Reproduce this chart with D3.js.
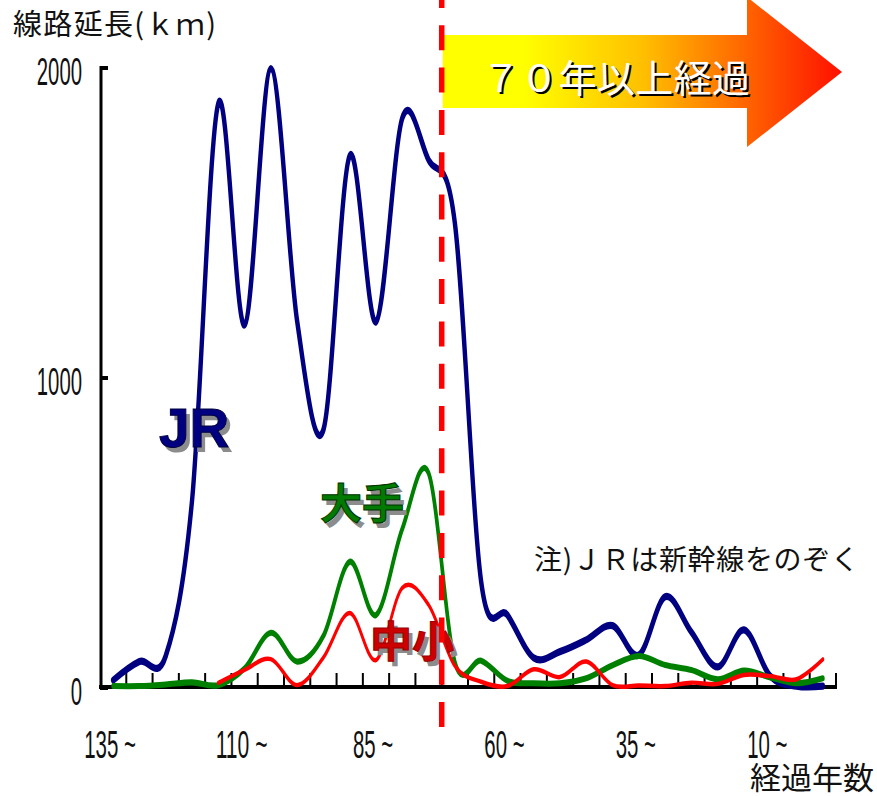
<!DOCTYPE html>
<html>
<head>
<meta charset="utf-8">
<script src="https://cdn.jsdelivr.net/npm/d3@7"></script>
<style>
body { margin: 0; background: #fff; }
svg { display: block; }
</style>
</head>
<body>
<svg id="chart" width="877" height="796"></svg>
<script>
// age classes (years since opening), one band per 5 years
const ages = ["135","130","125","120","115","110","105","100","95","90","85","80","75","70",
              "65","60","55","50","45","40","35","30","25","20","15","10","5","0"];
// line length (km) per age class
const jrValues     = [22, 82, 100, 600, 1882, 1168, 1995, 1180, 830, 1714, 1178, 1835, 1700, 1497,
                      340, 232, 94, 114, 152, 198, 103, 291, 177, 65, 184, 35, 3, 3];
const ooteValues   = [3, 3, 8, 15, 6, 60, 175, 82, 165, 404, 232, 510, 690, 80,
                      85, 20, 12, 12, 28, 70, 100, 71, 55, 25, 53, 31, 12, 28];
const chushoValues = [null, null, null, null, 13, 55, 90, 6, 95, 239, 87, 320, 265, 68,
                      17, 3, 57, 32, 82, 6, 5, 3, 14, 10, 39, 35, 25, 89];
const yTicks = [0, 1000, 2000];
const xTickAges = ["135", "110", "85", "60", "35", "10"];
const xTickLabels = ["135 ~", "110 ~", "85 ~", "60 ~", "35 ~", "10 ~"];
const limitAge = "70";

const svg = d3.select("#chart");
const plotLeft = 100, plotRight = 836, plotTop = 67, plotBottom = 687;
const stretch = 1.65; // the original picture is stretched vertically, lines are thicker when flat

const x = d3.scaleBand().domain(ages).range([plotLeft, plotRight]).padding(0);
const y = d3.scaleLinear().domain([0, 2000]).range([plotBottom, plotTop]);
// same scale, but in the stretched group (origin on the x axis)
const yS = d3.scaleLinear().domain([0, 2000]).range([0, (plotTop - plotBottom) / stretch]);
const bw = x.bandwidth();

const digitFont = "'Liberation Sans', Arial, sans-serif";
const jpFont = "'Noto Sans CJK JP', 'Noto Sans', sans-serif";

// gradient for the arrow
const defs = svg.append("defs");
const grad = defs.append("linearGradient").attr("id", "arrowGrad")
    .attr("x1", "0%").attr("x2", "100%").attr("y1", "0%").attr("y2", "0%");
grad.append("stop").attr("offset", "0%").attr("stop-color", "#ffff00");
grad.append("stop").attr("offset", "20%").attr("stop-color", "#ffff00");
grad.append("stop").attr("offset", "50%").attr("stop-color", "#ffc000");
grad.append("stop").attr("offset", "76%").attr("stop-color", "#ff6400");
grad.append("stop").attr("offset", "100%").attr("stop-color", "#ff1000");

// ---- axes ----
svg.append("line")
    .attr("x1", plotLeft + 1).attr("x2", plotLeft + 1)
    .attr("y1", y(2000) - 1).attr("y2", plotBottom + 2)
    .attr("stroke", "#000").attr("stroke-width", 3);

svg.selectAll(".ytick").data(yTicks).enter()
    .append("line").attr("class", "ytick")
    .attr("x1", plotLeft).attr("x2", plotLeft + 8)
    .attr("y1", d => y(d) + 1).attr("y2", d => y(d) + 1)
    .attr("stroke", "#000").attr("stroke-width", 4);

svg.selectAll(".ylab").data(yTicks).enter()
    .append("text").attr("class", "ylab")
    .attr("x", 82).attr("y", d => y(d) + 18)
    .attr("text-anchor", "end")
    .attr("font-family", digitFont).attr("font-size", 39)
    .attr("textLength", d => String(d).length * 11.3)
    .attr("lengthAdjust", "spacingAndGlyphs")
    .attr("fill", "#111")
    .text(d => d);

svg.append("line")
    .attr("x1", plotLeft - 1).attr("x2", plotRight + 1)
    .attr("y1", plotBottom).attr("y2", plotBottom)
    .attr("stroke", "#000").attr("stroke-width", 4);

// a tick at every band boundary
svg.selectAll(".xtick").data(ages.slice(1).map(a => x(a)).concat([plotRight]))
    .enter().append("line").attr("class", "xtick")
    .attr("x1", d => d).attr("x2", d => d)
    .attr("y1", plotBottom).attr("y2", plotBottom - 14)
    .attr("stroke", "#000").attr("stroke-width", 2);

svg.selectAll(".xlab").data(xTickAges).enter()
    .append("text").attr("class", "xlab")
    .attr("x", d => x(d) + bw / 2 - 3).attr("y", 758)
    .attr("text-anchor", "middle")
    .attr("font-family", digitFont).attr("font-size", 39)
    .attr("textLength", (d, i) => (xTickLabels[i].length - 2) * 11.6 + 17)
    .attr("lengthAdjust", "spacingAndGlyphs")
    .attr("fill", "#111")
    .text((d, i) => xTickLabels[i]);

// ---- titles ----
svg.append("text")
    .attr("x", 13).attr("y", 35)
    .attr("font-family", jpFont).attr("font-size", 29)
    .attr("textLength", 203).attr("lengthAdjust", "spacing")
    .attr("fill", "#111")
    .text("線路延長(ｋｍ)");

svg.append("text")
    .attr("x", 750).attr("y", 789)
    .attr("font-family", jpFont).attr("font-size", 31)
    .attr("fill", "#111")
    .text("経過年数");

svg.append("text")
    .attr("x", 534).attr("y", 570)
    .attr("font-family", jpFont).attr("font-size", 28)
    .attr("textLength", 325).attr("lengthAdjust", "spacing")
    .attr("fill", "#111")
    .text("注)ＪＲは新幹線をのぞく");

// ---- lines ----
const plot = svg.append("g")
    .attr("transform", `translate(0,${plotBottom}) scale(1,${stretch})`);

const line = d3.line()
    .defined(d => d != null)
    .x((d, i) => x(ages[i]) + bw / 2)
    .y(d => yS(d))
    .curve(d3.curveCardinal.tension(0));

const series = [
    { values: jrValues, color: "#000080", width: 4.4 },
    { values: ooteValues, color: "#008000", width: 3.7 },
    { values: chushoValues, color: "#ff0000", width: 2.7 }
];

plot.selectAll("path.series").data(series).enter()
    .append("path").attr("class", "series")
    .attr("d", d => line(d.values))
    .attr("fill", "none")
    .attr("stroke", d => d.color)
    .attr("stroke-width", d => d.width)
    .attr("stroke-linejoin", "round")
    .attr("stroke-linecap", "round");

// ---- series labels with shadow ----
function shadowLabel(txt, px, py, size, font, fill, outline) {
    svg.append("text")
        .attr("x", px + 4).attr("y", py + 5)
        .attr("font-family", font).attr("font-size", size).attr("font-weight", "bold")
        .attr("fill", "#8c8c8c")
        .text(txt);
    svg.append("text")
        .attr("x", px).attr("y", py)
        .attr("font-family", font).attr("font-size", size).attr("font-weight", "bold")
        .attr("fill", fill)
        .attr("stroke", outline).attr("stroke-width", 1)
        .text(txt);
}
shadowLabel("JR", 159, 447, 55, digitFont, "#000080", "#000040");
shadowLabel("大手", 320, 519, 42, jpFont, "#007a00", "#003300");
shadowLabel("中小", 370, 657, 42, jpFont, "#cc0000", "#990000");

// ---- 70 years arrow ----
const ax = x(limitAge);
svg.append("path")
    .attr("d", d3.line()([[ax + 1, 35], [747, 35], [747, -3], [842, 72], [747, 147], [747, 108], [ax + 1, 108]]) + "Z")
    .attr("fill", "url(#arrowGrad)");

svg.append("text")
    .attr("x", 484).attr("y", 94)
    .attr("font-family", jpFont).attr("font-size", 38)
    .attr("textLength", 268).attr("lengthAdjust", "spacing")
    .attr("fill", "#000")
    .text("７０年以上経過");
svg.append("text")
    .attr("x", 482).attr("y", 92)
    .attr("font-family", jpFont).attr("font-size", 38)
    .attr("textLength", 268).attr("lengthAdjust", "spacing")
    .attr("fill", "#fff")
    .text("７０年以上経過");

// dashed boundary at 70 years
svg.append("line")
    .attr("x1", ax).attr("x2", ax)
    .attr("y1", -17).attr("y2", 727)
    .attr("stroke", "#ff0000").attr("stroke-width", 5.5)
    .attr("stroke-dasharray", "25,17.3");
</script>
</body>
</html>
